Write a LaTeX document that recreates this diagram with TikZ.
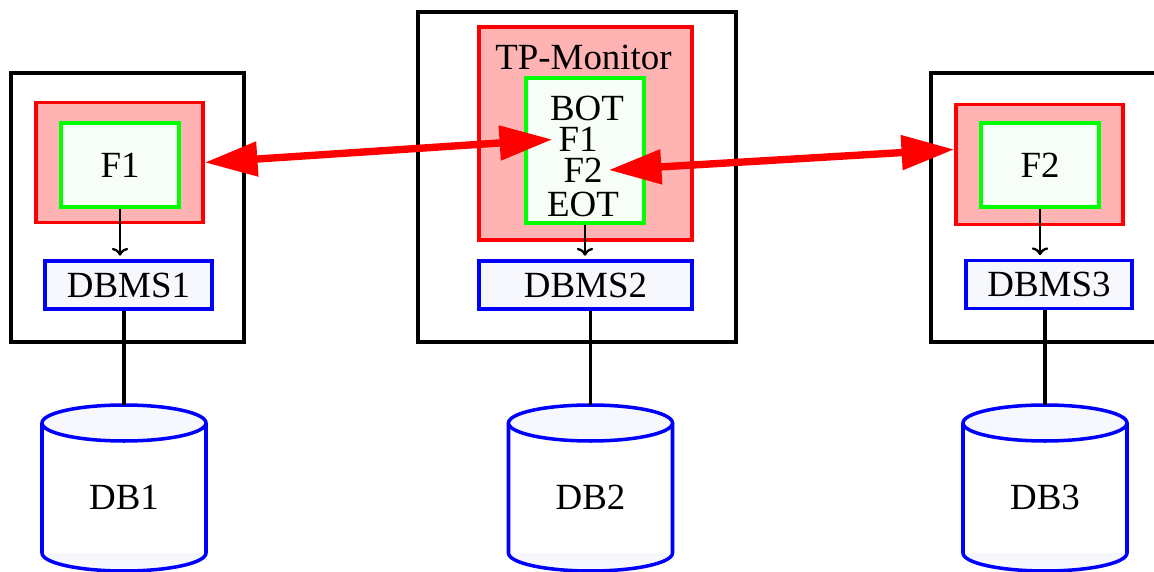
\documentclass[tikz,border=0pt]{standalone}
\usepackage{fontspec}
\setmainfont{Liberation Serif}
\usetikzlibrary{arrows.meta}

\definecolor{tppink}{RGB}{255,179,179}
\definecolor{progfill}{RGB}{247,253,247}
\definecolor{dbmsfill}{RGB}{247,248,254}

\tikzset{
  every node/.style={font=\fontsize{21}{24}\selectfont},
  hostbox/.style={draw=black, line width=2pt},
  tpbox/.style={draw=red, fill=tppink, line width=2pt},
  progbox/.style={draw=green, fill=progfill, line width=2pt},
  dbmsbox/.style={draw=blue, fill=dbmsfill, line width=2pt, minimum height=0.96cm},
  dbline/.style={draw=blue, line width=2pt},
  tpline/.style={inner ysep=1pt},
  callarrow/.style={draw=red, line width=4.2pt, {Triangle[length=30pt,width=19pt]}-{Triangle[length=30pt,width=19pt]}},
  dbmsarrow/.style={draw=black, line width=1.3pt, ->, shorten >=2pt},
  dbconn/.style={draw=black, line width=1.8pt}
}

\begin{document}
\begin{tikzpicture}
        \useasboundingbox (0,0) rectangle (23.08,-11.44);

        % hosts
        \draw[hostbox] (0.22,-1.46) rectangle (4.88,-6.84);
        \draw[hostbox] (8.36,-0.24) rectangle (14.72,-6.84);
        \draw[hostbox] (18.62,-1.46) rectangle (23.40,-6.84);

        % left host
        \node[tpbox, minimum width=3.34cm, minimum height=2.4cm] (lapp) at (2.39,-3.25) {};
        \node[progbox, minimum width=2.36cm, minimum height=1.68cm] (lprog) at (2.40,-3.30) {F1};
        \node[dbmsbox, minimum width=3.34cm] (dbms1) at (2.57,-5.70) {DBMS1};

        % middle host
        \node[tpbox, minimum width=4.26cm, minimum height=4.26cm] (tpmon) at (11.71,-2.67) {};
        \node (tplabel) at (11.67,-1.14) {TP-Monitor};
        \node[progbox, minimum width=2.36cm, minimum height=2.9cm] (tpprog) at (11.70,-3.01) {};
        \node[tpline] (tpbot) at (11.74,-2.16) {BOT};
        \node[tpline] (tpf1) at (11.56,-2.79) {F1};
        \node[tpline] (tpf2) at (11.66,-3.40) {F2};
        \node[tpline] (tpeot) at (11.66,-4.08) {EOT};
        \node[dbmsbox, minimum width=4.26cm] (dbms2) at (11.71,-5.70) {DBMS2};

        % right host
        \node[tpbox, minimum width=3.34cm, minimum height=2.4cm] (rapp) at (20.79,-3.29) {};
        \node[progbox, minimum width=2.36cm, minimum height=1.68cm] (rprog) at (20.80,-3.30) {F2};
        \node[dbmsbox, minimum width=3.32cm] (dbms3) at (20.98,-5.69) {DBMS3};

        % databases
        \fill[dbmsfill] (0.84,-11.06) arc[start angle=180, end angle=360, x radius=1.64, y radius=0.36] -- cycle;
        \draw[dbline] (0.84,-8.46) -- (0.84,-11.06) arc[start angle=180, end angle=360, x radius=1.64, y radius=0.36] -- (4.12,-8.46);
        \draw[dbline, fill=dbmsfill] (2.48,-8.46) ellipse[x radius=1.64, y radius=0.36];
        \coordinate (db1top) at (2.48,-8.10);
        \node (db1) at (2.48,-9.94) {DB1};

        \fill[dbmsfill] (10.17,-11.06) arc[start angle=180, end angle=360, x radius=1.64, y radius=0.36] -- cycle;
        \draw[dbline] (10.17,-8.46) -- (10.17,-11.06) arc[start angle=180, end angle=360, x radius=1.64, y radius=0.36] -- (13.45,-8.46);
        \draw[dbline, fill=dbmsfill] (11.81,-8.46) ellipse[x radius=1.64, y radius=0.36];
        \coordinate (db2top) at (11.81,-8.10);
        \node (db2) at (11.81,-9.94) {DB2};

        \fill[dbmsfill] (19.26,-11.06) arc[start angle=180, end angle=360, x radius=1.64, y radius=0.36] -- cycle;
        \draw[dbline] (19.26,-8.46) -- (19.26,-11.06) arc[start angle=180, end angle=360, x radius=1.64, y radius=0.36] -- (22.54,-8.46);
        \draw[dbline, fill=dbmsfill] (20.90,-8.46) ellipse[x radius=1.64, y radius=0.36];
        \coordinate (db3top) at (20.90,-8.10);
        \node (db3) at (20.90,-9.94) {DB3};

        % calls
        \draw[callarrow] (lapp.east) -- (tpf1.west);
        \draw[callarrow] (tpf2.east) -- (rapp.170);

        \draw[dbmsarrow] (lprog.south) -- (lprog.south |- dbms1.north);
        \draw[dbmsarrow] (tpprog.south) -- (tpprog.south |- dbms2.north);
        \draw[dbmsarrow] (rprog.south) -- (rprog.south |- dbms3.north);

        \draw[dbconn] (dbms1.south -| db1top) -- (db1top);
        \draw[dbconn] (dbms2.south -| db2top) -- (db2top);
        \draw[dbconn] (dbms3.south -| db3top) -- (db3top);
    \end{tikzpicture}
\end{document}
